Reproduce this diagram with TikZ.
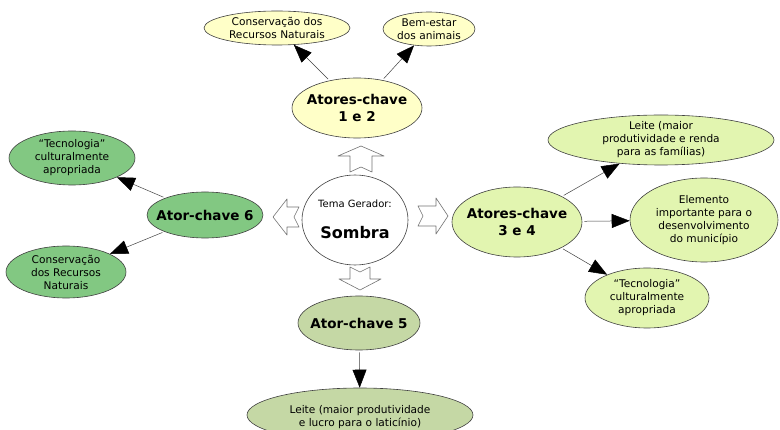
\documentclass[tikz,border=0pt]{standalone}
\usepackage{fontspec}
\setmainfont{DejaVu Sans}
\usetikzlibrary{shapes.geometric,arrows.meta}
\definecolor{cYel}{HTML}{FFFFC8}
\definecolor{cLg}{HTML}{E2F5B0}
\definecolor{cMg}{HTML}{82C882}
\definecolor{cSage}{HTML}{C5D8A5}
\begin{document}
\begin{tikzpicture}[x=1pt,y=-1pt,
 ell/.style={ellipse,draw=black!75,line width=0.6pt,inner sep=0pt},
 txt/.style={align=center,inner sep=0pt,font=\fontsize{10.6}{13}\selectfont},
 btxt/.style={align=center,inner sep=0pt,font=\fontsize{13.5}{17}\selectfont\bfseries},
 arr/.style={draw=black!75,line width=0.5pt,shorten <=2pt,-{Triangle[length=18pt,width=14pt,color=black]}},
 blk/.style={fill=white,draw=black!55,line width=0.6pt,line join=round}
]
\useasboundingbox (0,0) rectangle (780,430);

% top group
\node[ell,fill=cYel,minimum width=146,minimum height=34] (top1) at (277,28) {};
\node[txt] (top1t) at (top1) {Conservação dos\\Recursos Naturais};
\node[ell,fill=cYel,minimum width=92,minimum height=34] (top2) at (429,29) {};
\node[txt] (top2t) at (top2) {Bem-estar\\dos animais};
\node[ell,fill=cYel,minimum width=130,minimum height=60] (a12) at (357,108) {};
\node[btxt] (a12t) at (a12) {Atores-chave\\1 e 2};

% centre
\node[ell,fill=white,minimum width=106,minimum height=90] (ctr) at (355,220) {};
\node[inner sep=0pt,font=\fontsize{10}{12}\selectfont] (ctr1) at (355,204) {Tema Gerador:};
\node[inner sep=0pt,font=\fontsize{16}{18}\selectfont\bfseries] (ctr2) at (355,233) {Sombra};

% left group
\node[ell,fill=cMg,minimum width=116,minimum height=46] (a6) at (205,215) {};
\node[btxt] (a6t) at (a6) {Ator-chave 6};
\node[ell,fill=cMg,minimum width=126,minimum height=54] (l1) at (72,158) {};
\node[txt] (l1t) at (l1) {“Tecnologia”\\culturalmente\\apropriada};
\node[ell,fill=cMg,minimum width=120,minimum height=52] (l2) at (66,272) {};
\node[txt] (l2t) at (l2) {Conservação\\dos Recursos\\Naturais};

% right group
\node[ell,fill=cLg,minimum width=130,minimum height=70] (a34) at (517,222) {};
\node[btxt] (a34t) at (a34) {Atores-chave\\3 e 4};
\node[ell,fill=cLg,minimum width=226,minimum height=50] (r1) at (661,140) {};
\node[txt] (r1t) at (r1) {Leite (maior\\produtividade e renda\\para as famílias)};
\node[ell,fill=cLg,minimum width=148,minimum height=84] (r2) at (704,220) {};
\node[txt] (r2t) at (r2) {Elemento\\importante para o\\desenvolvimento\\do município};
\node[ell,fill=cLg,minimum width=124,minimum height=60] (r3) at (647,298) {};
\node[txt] (r3t) at (r3) {“Tecnologia”\\culturalmente\\apropriada};

% bottom group
\node[ell,fill=cSage,minimum width=122,minimum height=54] (a5) at (359,323) {};
\node[btxt] (a5t) at (a5) {Ator-chave 5};
\node[ell,fill=cSage,minimum width=226,minimum height=54] (b1) at (360,415) {};
\node[txt] (b1t) at (360,417) {Leite (maior produtividade\\e lucro para o laticínio)};

% block arrows
\draw[blk] (361,146) -- (384,156) -- (372,156) -- (372,172) -- (361,167) -- (350,172) -- (350,156) -- (338,156) -- cycle;
\draw[blk] (350,267) -- (360,272) -- (370,267) -- (370,279) -- (381,279) -- (360,290) -- (339,279) -- (350,279) -- cycle;
\draw[blk] (273,217) -- (287,199) -- (287,207) -- (299,207) -- (294,217) -- (299,227) -- (287,227) -- (287,235) -- cycle;
\draw[blk] (418,206) -- (436,206) -- (436,198) -- (448,216) -- (436,234) -- (436,226) -- (418,226) -- (423,216) -- cycle;

% connectors
\draw[arr] (a12) -- (top1);
\draw[arr] (a12) -- (top2);
\draw[arr] (a6) -- (l1);
\draw[arr] (a6) -- (l2);
\draw[arr] (a34) -- (r1);
\draw[arr] (a34) -- (r2);
\draw[arr] (a34) -- (r3);
\draw[arr] (a5) -- (b1);
\end{tikzpicture}
\end{document}
